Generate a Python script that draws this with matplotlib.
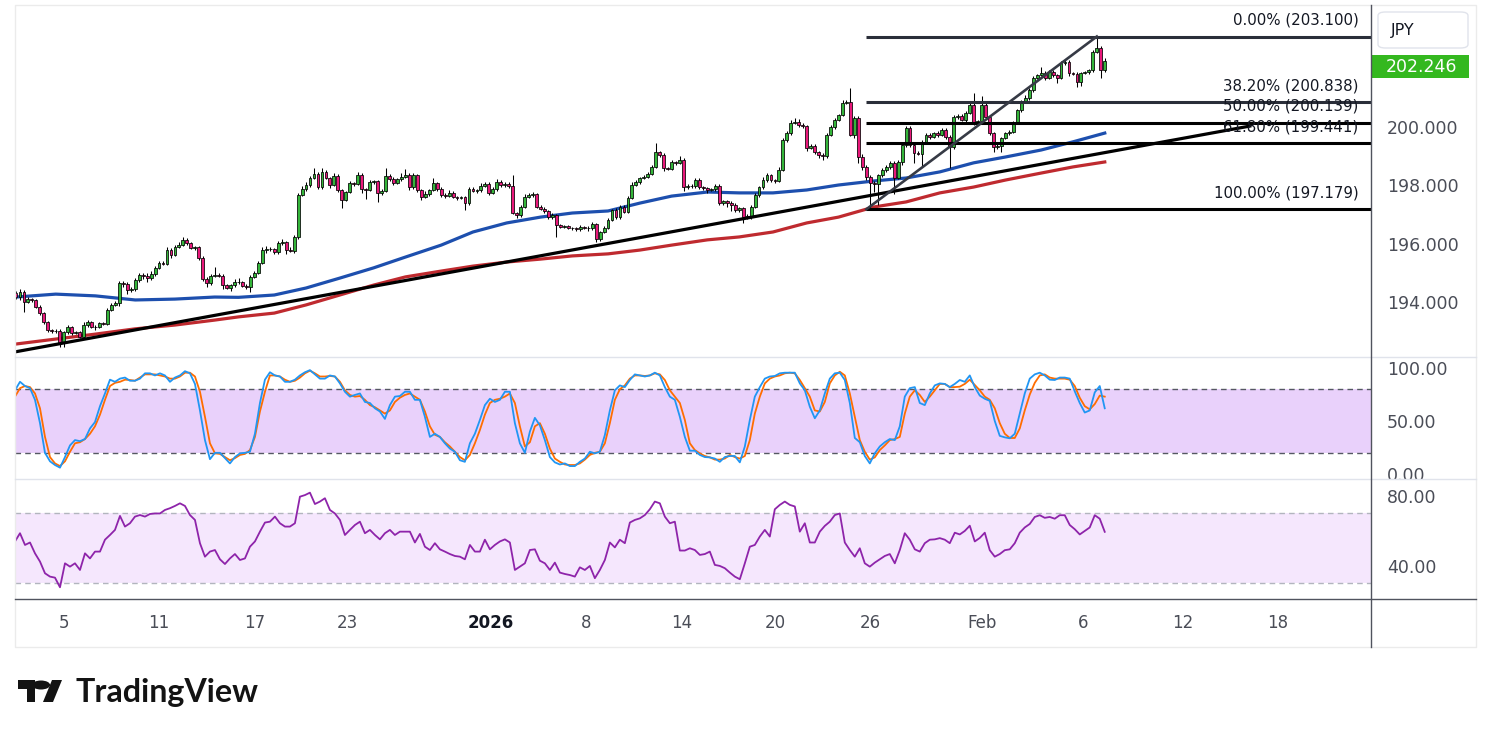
#!/usr/bin/env python

""" 4h JPY cross chart: candles, two moving averages, a trendline,
    a fib retracement, a stochastic pane and an RSI pane
"""

import numpy as np
import matplotlib
matplotlib.use("Agg")
import matplotlib.pyplot as plt
from matplotlib.patches import FancyBboxPatch, Rectangle, Polygon, Circle
from matplotlib.lines import Line2D
from matplotlib.transforms import Bbox, TransformedBbox

# ---- price bars (4h), oldest first; open of a bar = close of the one before
first_open = 194.30
closes = [
    194.17, 194.34, 194.00, 194.10, 194.07, 193.83, 193.62, 193.31, 193.04, 193.00,
    193.02, 192.60, 192.97, 193.14, 192.94, 192.96, 192.80, 193.21, 193.31, 193.14,
    193.16, 193.28, 193.26, 193.73, 193.90, 193.97, 194.65, 194.62, 194.41, 194.45,
    194.75, 194.93, 194.90, 194.82, 194.96, 195.17, 195.34, 195.31, 195.78, 195.61,
    195.89, 195.96, 196.13, 196.02, 195.85, 195.87, 195.51, 194.79, 194.65, 194.89,
    194.93, 194.89, 194.58, 194.48, 194.58, 194.69, 194.67, 194.55, 194.51, 194.86,
    195.00, 195.34, 195.78, 195.82, 195.80, 195.70, 196.02, 196.05, 195.78, 195.76,
    196.23, 197.67, 197.87, 198.01, 198.25, 198.39, 197.94, 198.46, 198.25, 198.01,
    198.32, 197.84, 197.50, 197.77, 198.08, 198.05, 198.35, 197.87, 197.85, 198.11,
    198.14, 197.74, 197.81, 198.32, 198.22, 198.08, 198.20, 198.29, 198.35, 197.94,
    198.35, 197.84, 197.60, 197.70, 197.84, 198.08, 197.87, 197.67, 197.65, 197.74,
    197.60, 197.57, 197.59, 197.39, 197.87, 197.81, 197.83, 197.98, 198.05, 197.74,
    197.87, 198.11, 198.00, 198.05, 197.98, 197.05, 196.98, 197.26, 197.60, 197.67,
    197.70, 197.26, 197.19, 197.12, 196.91, 196.98, 196.64, 196.57, 196.59, 196.54,
    196.52, 196.50, 196.57, 196.54, 196.52, 196.67, 196.16, 196.40, 196.54, 196.81,
    197.15, 196.91, 197.26, 197.09, 197.57, 198.01, 198.11, 198.25, 198.29, 198.39,
    198.63, 199.14, 199.04, 198.59, 198.57, 198.80, 198.77, 198.87, 197.94, 197.98,
    197.96, 198.18, 197.94, 197.90, 197.84, 197.87, 197.98, 197.39, 197.46, 197.39,
    197.33, 197.15, 197.22, 196.91, 196.95, 197.26, 197.67, 197.94, 198.18, 198.35,
    198.18, 198.15, 198.53, 199.55, 199.79, 200.14, 200.17, 200.07, 200.03, 199.28,
    199.35, 199.14, 199.04, 199.00, 199.73, 200.00, 200.24, 200.41, 200.82, 200.86,
    199.73, 200.31, 198.97, 198.63, 198.29, 198.08, 198.06, 198.35, 198.53, 198.63,
    198.77, 198.25, 198.80, 199.38, 199.97, 199.38, 199.11, 199.09, 199.49, 199.73,
    199.66, 199.79, 199.73, 199.90, 199.66, 199.31, 200.34, 200.38, 200.24, 200.48,
    200.75, 200.14, 200.20, 200.75, 200.34, 199.79, 199.31, 199.35, 199.62, 199.79,
    199.83, 200.14, 200.58, 200.86, 200.99, 201.27, 201.68, 201.78, 201.85, 201.68,
    201.89, 201.78, 201.68, 202.19, 202.23, 201.85, 201.82, 201.54, 201.85, 201.87,
    201.95, 202.57, 202.71, 201.95, 202.25,
]
# wick length above the body and below the body
wick_up = [
    0.08, 0.10, 0.08, 0.06, 0.05, 0.05, 0.06, 0.05, 0.05, 0.05, 0.06, 0.06, 0.05, 0.08, 0.05, 0.04, 0.04, 0.10, 0.08, 0.05, 0.04, 0.05, 0.05, 0.05, 0.06,
    0.05, 0.06, 0.08, 0.05, 0.05, 0.06, 0.05, 0.06, 0.08, 0.10, 0.05, 0.06, 0.05, 0.10, 0.06, 0.05, 0.08, 0.10, 0.08, 0.05, 0.05, 0.05, 0.05, 0.05, 0.06,
    0.27, 0.05, 0.06, 0.05, 0.05, 0.10, 0.12, 0.05, 0.06, 0.05, 0.05, 0.06, 0.10, 0.10, 0.08, 0.06, 0.08, 0.10, 0.05, 0.10, 0.06, 0.05, 0.10, 0.12, 0.08,
    0.20, 0.05, 0.15, 0.06, 0.05, 0.10, 0.08, 0.05, 0.05, 0.06, 0.05, 0.10, 0.06, 0.05, 0.06, 0.05, 0.05, 0.05, 0.27, 0.06, 0.05, 0.05, 0.12, 0.20, 0.08,
    0.06, 0.05, 0.05, 0.12, 0.05, 0.17, 0.05, 0.06, 0.05, 0.10, 0.05, 0.05, 0.05, 0.05, 0.08, 0.06, 0.05, 0.10, 0.06, 0.05, 0.08, 0.12, 0.08, 0.06, 0.05,
    0.37, 0.05, 0.06, 0.10, 0.08, 0.06, 0.05, 0.06, 0.05, 0.05, 0.06, 0.05, 0.04, 0.05, 0.05, 0.04, 0.05, 0.06, 0.05, 0.05, 0.06, 0.05, 0.05, 0.06, 0.08,
    0.05, 0.06, 0.05, 0.05, 0.06, 0.10, 0.06, 0.05, 0.06, 0.05, 0.08, 0.30, 0.05, 0.06, 0.05, 0.06, 0.05, 0.12, 0.05, 0.06, 0.05, 0.08, 0.06, 0.05, 0.05,
    0.05, 0.06, 0.08, 0.05, 0.05, 0.06, 0.05, 0.05, 0.05, 0.06, 0.05, 0.08, 0.05, 0.10, 0.06, 0.05, 0.05, 0.10, 0.06, 0.08, 0.10, 0.15, 0.10, 0.06, 0.05,
    0.06, 0.05, 0.05, 0.06, 0.05, 0.08, 0.06, 0.05, 0.10, 0.08, 0.48, 0.06, 0.05, 0.10, 0.05, 0.05, 0.06, 0.05, 0.08, 0.05, 0.06, 0.05, 0.08, 0.10, 0.07,
    0.05, 0.05, 0.06, 0.05, 0.05, 0.06, 0.05, 0.06, 0.05, 0.06, 0.05, 0.08, 0.06, 0.05, 0.06, 0.10, 0.40, 0.05, 0.30, 0.06, 0.05, 0.05, 0.06, 0.05, 0.05,
    0.05, 0.06, 0.05, 0.06, 0.10, 0.06, 0.08, 0.05, 0.20, 0.06, 0.05, 0.06, 0.05, 0.08, 0.06, 0.05, 0.05, 0.06, 0.05, 0.06, 0.05, 0.08, 0.39, 0.05, 0.10,
]
wick_dn = [
    0.05, 0.10, 0.35, 0.05, 0.06, 0.05, 0.05, 0.05, 0.06, 0.05, 0.05, 0.15, 0.15, 0.05, 0.06, 0.05, 0.04, 0.05, 0.05, 0.04, 0.10, 0.05, 0.05, 0.05, 0.05,
    0.05, 0.10, 0.10, 0.12, 0.05, 0.06, 0.05, 0.10, 0.12, 0.05, 0.06, 0.05, 0.05, 0.05, 0.10, 0.05, 0.05, 0.05, 0.06, 0.05, 0.08, 0.06, 0.06, 0.15, 0.08,
    0.05, 0.05, 0.12, 0.05, 0.10, 0.05, 0.06, 0.05, 0.05, 0.15, 0.05, 0.05, 0.05, 0.10, 0.05, 0.06, 0.05, 0.05, 0.12, 0.05, 0.08, 0.06, 0.05, 0.05, 0.08,
    0.05, 0.06, 0.05, 0.05, 0.10, 0.05, 0.06, 0.27, 0.05, 0.05, 0.06, 0.05, 0.12, 0.33, 0.05, 0.06, 0.30, 0.06, 0.05, 0.06, 0.08, 0.05, 0.05, 0.05, 0.10,
    0.05, 0.06, 0.12, 0.05, 0.06, 0.05, 0.05, 0.06, 0.08, 0.05, 0.05, 0.06, 0.05, 0.24, 0.05, 0.05, 0.06, 0.05, 0.05, 0.08, 0.05, 0.05, 0.06, 0.05, 0.08,
    0.05, 0.10, 0.05, 0.05, 0.05, 0.06, 0.05, 0.05, 0.08, 0.06, 0.05, 0.40, 0.05, 0.05, 0.05, 0.06, 0.05, 0.05, 0.05, 0.10, 0.05, 0.12, 0.06, 0.05, 0.05,
    0.05, 0.05, 0.08, 0.05, 0.05, 0.05, 0.05, 0.06, 0.05, 0.05, 0.05, 0.05, 0.06, 0.10, 0.05, 0.05, 0.06, 0.05, 0.12, 0.05, 0.06, 0.05, 0.08, 0.05, 0.10,
    0.05, 0.06, 0.08, 0.05, 0.15, 0.20, 0.06, 0.05, 0.20, 0.05, 0.12, 0.05, 0.06, 0.05, 0.05, 0.06, 0.08, 0.05, 0.05, 0.06, 0.05, 0.05, 0.06, 0.05, 0.12,
    0.05, 0.06, 0.10, 0.12, 0.05, 0.05, 0.06, 0.05, 0.05, 0.05, 0.05, 0.10, 0.20, 0.10, 0.12, 0.90, 0.30, 0.75, 0.05, 0.06, 0.08, 0.55, 0.05, 0.10, 0.05,
    0.05, 0.34, 0.05, 0.46, 0.05, 0.06, 0.05, 0.06, 0.05, 0.06, 0.70, 0.05, 0.06, 0.05, 0.06, 0.05, 0.08, 0.05, 0.06, 0.05, 0.08, 0.17, 0.05, 0.20, 0.05,
    0.06, 0.05, 0.05, 0.06, 0.05, 0.05, 0.06, 0.05, 0.05, 0.08, 0.05, 0.06, 0.17, 0.05, 0.06, 0.10, 0.05, 0.17, 0.15, 0.05, 0.06, 0.05, 0.05, 0.27, 0.05,
]
last_price = 202.246

# ---- moving averages, read at these bars
ma_bars = [0, 10, 20, 30, 40, 50, 56, 65, 73, 81.5, 90, 98, 107, 115, 123.5, 132, 140,
           149, 157, 165, 174, 182, 190.5, 199, 207, 216, 224, 232.5, 241, 249, 258, 266, 274]
ma_blue = [194.17, 194.27, 194.21, 194.07, 194.10, 194.17, 194.16, 194.24, 194.48, 194.82,
           195.17, 195.54, 195.95, 196.40, 196.71, 196.91, 197.05, 197.12, 197.39, 197.63,
           197.77, 197.74, 197.74, 197.84, 198.01, 198.15, 198.25, 198.46, 198.77, 198.97,
           199.21, 199.49, 199.79]
ma_red = [192.56, 192.73, 192.90, 193.08, 193.21, 193.38, 193.49, 193.62, 193.90, 194.24,
          194.58, 194.86, 195.06, 195.23, 195.37, 195.47, 195.58, 195.65, 195.78, 195.95,
          196.13, 196.23, 196.40, 196.71, 196.91, 197.26, 197.43, 197.74, 197.94, 198.18,
          198.42, 198.63, 198.80]

# ---- drawings
trend_bars = [-0.25, 310.5]
trend_prices = [192.29, 200.03]
fib_high = 203.100
fib_low = 197.179
fib_levels = [0.0, 0.382, 0.5, 0.618, 1.0]
fib_start_bar = 214
fib_low_bar = 214
fib_high_bar = 272

# ---- oscillators, read every 1.258 bars starting at bar -0.25
osc_start = -0.25
osc_step = 1.258
stoch_k = [
    79, 87, 83, 81, 70, 48, 20, 12, 8.5, 6,
    16, 27, 32, 31, 33, 43, 49, 64, 76, 89,
    87, 90, 91, 88, 88, 90, 95, 95, 93, 95,
    93, 87, 91, 93, 97, 95, 85, 60, 32, 14,
    20, 20, 15, 10, 16, 19.5, 20, 21, 38, 67,
    89, 96, 93, 92, 87, 87, 89, 93, 96, 98,
    94, 90, 90, 93, 92, 85.5, 77.6, 73, 74.6, 76,
    68, 67, 62, 59, 52, 65, 73, 73.6, 77.6, 77.6,
    70, 70, 54, 35, 38, 35, 29, 24, 21, 13,
    11.5, 29, 38, 51, 65, 71, 68,
    70, 77.6, 77.6, 48, 29, 20, 40, 53, 46, 32,
    16, 11, 9, 10, 7.5, 7.5, 11.5, 14.6, 21, 19.5,
    21, 36.8, 60, 79, 83.6, 82, 88.7, 94, 93, 92,
    93, 95.6, 93, 82, 73, 70, 54, 35, 22, 22,
    18, 16, 15.7, 14.6, 11.5, 16, 17, 17, 11, 26,
    51, 73, 82, 90, 92, 92.5, 95, 95.6, 95.6, 95.6,
    85.5, 79, 63.5, 52.6, 60, 76, 90, 95, 95.6, 88.7,
    67, 34, 30, 17, 10, 19.5, 26, 30, 33, 32,
    45, 73, 81, 82, 67, 65, 76, 83.6, 85.5, 85,
    82, 85, 88.7, 87, 93, 82, 74, 71, 69, 50,
    36, 34.6, 33.7, 38, 57, 76, 90, 94, 95.6, 93,
    89, 88.7, 91, 91, 90, 78, 67, 58, 60, 77,
    83, 62,
]
stoch_d = [
    73, 81, 83, 82, 76, 62, 35, 16, 10, 7.5,
    12, 21, 29, 30, 33, 38, 45, 56, 70, 83,
    86, 87, 89, 88.7, 88, 91, 94, 94, 94, 93,
    92, 90, 90, 92, 95.6, 95.6, 92, 77.6, 54, 29,
    19.5, 19, 16, 13, 15, 18, 19, 22.6, 35, 59,
    77.6, 93, 93, 92, 89, 87, 88, 91, 95, 97.5,
    95, 92, 92, 92.5, 92, 87, 79, 74.6, 73, 73.6,
    70, 65, 63, 60, 57, 60, 68, 72, 74.6, 76,
    73, 70, 59, 45, 37, 35, 30, 26, 21, 16,
    13, 18, 29, 41.5, 56, 67, 70,
    71, 73, 76, 67, 45, 26, 30, 45, 48, 38,
    24, 14.6, 11.5, 9, 8.5, 8.5, 10, 13.6, 18, 20,
    21, 29, 48, 70, 80, 83.6, 90, 93, 93, 92.5,
    93, 95, 94, 88.7, 79, 73, 67, 51, 29, 22.6,
    19.5, 17, 15.7, 13.6, 13.6, 14.6, 18, 16, 14.6, 17,
    32, 57, 73, 85.5, 90, 92, 93, 95, 95.6, 95,
    88.7, 81, 73, 60, 59, 68, 85.5, 93, 96.5, 93,
    76, 54, 32, 21, 13.6, 15.7, 22.6, 27, 32, 33,
    35, 57, 73, 79, 74.6, 68, 73, 79, 85, 85,
    82, 82, 82.4, 85, 89, 84, 79, 73, 70, 62,
    48, 38, 34, 34, 43, 60, 75, 86, 93, 94,
    91, 90, 90, 90, 89, 83, 72, 64, 61, 66,
    74, 73,
]
rsi = [
    54, 58.7, 52, 53.4, 47.2, 42.5, 35.8, 33.9, 33.3, 27.8,
    41.5, 39.6, 41.5, 37.7, 47.2, 44.3, 48.2, 48.2, 55, 57.7,
    60.6, 68.6, 62.5, 64.4, 68.2, 69.1, 68.2, 69.7, 70, 70,
    72, 73, 74.3, 75.8, 74.3, 69.1, 66.3, 53, 45.3, 48.2,
    49.1, 43.8, 41.1, 44.3, 46.8, 43.4, 44.3, 51, 54, 59.6,
    64.8, 65.3, 68.2, 64.4, 62.5, 62.5, 64.4, 79.6, 80.5, 81.9,
    75.4, 76.8, 78.7, 72, 70, 66.3, 57.7, 60.6, 63.4, 65.3,
    58.7, 60.6, 57.7, 55.2, 58.7, 60.6, 57.7, 59.6, 59.6, 59.6,
    53.4, 58.3, 51, 49.1, 53, 49.5, 48.2, 46.8, 45.7, 45.3,
    43.8, 52, 48.2, 48.2, 55, 49.5, 52,
    54, 55.2, 53.4, 37.7, 39.6, 41.5, 49.1, 49.5, 43, 41.5,
    37.7, 41.9, 36.2, 35.4, 34.8, 33.9, 39.2, 37.7, 40, 33,
    37.7, 43.4, 53.4, 50.6, 55, 53, 64.8, 66.3, 67.2, 69.1,
    72.4, 76.8, 75.8, 68.2, 64.4, 65.3, 48.8, 48.8, 50.1, 49.1,
    46.3, 46.8, 48.2, 40.6, 40, 38.7, 36.2, 33.9, 32.4, 41.5,
    51, 52, 56.8, 60.6, 56.8, 72.4, 74.9, 76.8, 74.9, 74,
    59.6, 64.4, 53.4, 53.4, 59.6, 62.9, 65.3, 69.1, 70, 53.4,
    49.1, 45.3, 50.1, 41.5, 39.6, 41.9, 43.8, 45.7, 46.8, 41.5,
    49.1, 58.7, 55, 49.5, 48.2, 53, 55, 55.2, 55.9, 55,
    53, 59, 58, 60, 63, 54, 56, 59, 49, 45.3,
    46.8, 49, 49.5, 53, 59, 62, 64, 68, 69, 67.5,
    68, 67, 69, 69, 63.4, 61, 58, 60, 62, 69,
    67, 59.5,
]

# ---- axes labels
date_ticks = [12, 36, 60, 83.5, 119.5, 143.5, 167.5, 191, 215, 243, 268.5, 293.5, 317.5]
date_labels = ["5", "11", "17", "23", "2026", "8", "14", "20", "26", "Feb", "6", "12", "18"]
price_ticks = [194, 196, 198, 200]
stoch_ticks = [0, 50, 100]
rsi_ticks = [40, 80]

W, H = 1491, 737
GREEN = "#34b53a"
RED = "#e8187a"
AXIS_TXT = "#4a4d57"


def fx(px):
    return px / W


def fy(py):
    return 1 - py / H


def draw_chart():
    fig = plt.figure(figsize=(W / 100, H / 100), dpi=100)
    fig.patch.set_facecolor("white")

    left, right = 15, 1371
    ax = fig.add_axes([fx(left), fy(357), fx(right - left), (357 - 5) / H])
    ax_st = fig.add_axes([fx(left), fy(479), fx(right - left), (479 - 357) / H], sharex=ax)
    ax_rsi = fig.add_axes([fx(left), fy(599), fx(right - left), (599 - 479) / H], sharex=ax)

    for a in (ax, ax_st, ax_rsi):
        for s in a.spines.values():
            s.set_visible(False)
        a.set_facecolor("white")
        a.yaxis.tick_right()
        a.tick_params(axis="y", length=0, pad=11.5, labelsize=12.5, labelcolor=AXIS_TXT)
        a.tick_params(axis="x", length=0, labelbottom=False)

    # ---- candles
    c = np.array(closes)
    o = np.concatenate([[first_open], c[:-1]])
    hi = np.maximum(o, c) + np.array(wick_up)
    lo = np.minimum(o, c) - np.array(wick_dn)
    x = np.arange(len(c))
    cols = np.where(c >= o, GREEN, RED)
    body = np.maximum(np.abs(c - o), 0.015)
    ax.vlines(x, lo, hi, color="black", lw=0.75, zorder=3)
    ax.bar(x, body, bottom=np.minimum(o, c), width=0.72, color=cols,
           edgecolor="black", linewidth=0.55, zorder=4)

    # ---- moving averages and drawings
    ax.plot(ma_bars, ma_blue, color="#1d4fae", lw=2.3, zorder=2, solid_joinstyle="round")
    ax.plot(ma_bars, ma_red, color="#bf2a2f", lw=2.3, zorder=2, solid_joinstyle="round")
    ax.plot(trend_bars, trend_prices, color="black", lw=2.3, zorder=5)

    rng = fib_high - fib_low
    for lvl in fib_levels:
        p = fib_high - lvl * rng
        col = "#2a2e39" if lvl < 0.45 else "black"
        ax.plot([fib_start_bar, 341], [p, p], color=col, lw=2.2, zorder=5,
                solid_capstyle="butt")
        ax.annotate("%.2f%% (%.3f)" % (lvl * 100, p), xy=(1, p),
                    xycoords=("axes fraction", "data"), xytext=(-9, 6.5),
                    textcoords="offset points", ha="right", va="bottom",
                    fontsize=10.8, color="#131722", zorder=6)
    ax.plot([fib_low_bar, fib_high_bar], [fib_low, fib_high], color="#363a45",
            lw=1.9, zorder=5)

    ax.set_ylim(192.115, 204.18)
    ax.set_yticks(price_ticks)
    ax.set_yticklabels(["%.3f" % t for t in price_ticks])

    # ---- stochastic
    xo = osc_start + osc_step * np.arange(len(stoch_k))
    ax_st.axhspan(20, 80, color="#e9d1fb", lw=0, zorder=0)
    for lv in (20, 80):
        ax_st.axhline(lv, color="#555862", lw=1.0, ls=(0, (4, 3)), zorder=1)
    ax_st.plot(xo, stoch_k, color="#2196f3", lw=1.3, zorder=3)
    ax_st.plot(xo, stoch_d, color="#ff6d00", lw=1.3, zorder=2)
    ax_st.set_ylim(-4.7, 110.4)
    ax_st.set_yticks(stoch_ticks)
    ax_st.set_yticklabels(["%.2f" % t for t in stoch_ticks])

    # ---- rsi
    xr = osc_start + osc_step * np.arange(len(rsi))
    ax_rsi.axhspan(30, 70, color="#f5e7fd", lw=0, zorder=0)
    for lv in (30, 70):
        ax_rsi.axhline(lv, color="#b2b5be", lw=1.0, ls=(0, (4, 3)), zorder=1)
    ax_rsi.plot(xr, rsi, color="#8e24aa", lw=1.3, zorder=3)
    ax_rsi.set_ylim(21.1, 89.7)
    ax_rsi.set_yticks(rsi_ticks)
    ax_rsi.set_yticklabels(["%.2f" % t for t in rsi_ticks])

    ax_rsi.set_xticks(date_ticks)
    ax_rsi.set_xticklabels(date_labels)
    ax_rsi.tick_params(axis="x", labelbottom=True, labelsize=12, pad=11,
                       labelcolor=AXIS_TXT)
    for lab in ax_rsi.get_xticklabels():
        if lab.get_text() == "2026":
            lab.set_fontweight("bold")
            lab.set_color("#131722")
    ax.set_xlim(-0.25, 341)

    # the 0.00 label is cut by the pane below
    clip = TransformedBbox(Bbox.from_extents(0, fy(479), 1, fy(357)), fig.transFigure)
    for t in ax_st.yaxis.get_major_ticks():
        t.label2.set_clip_box(clip)
        t.label2.set_clip_on(True)

    # ---- frame lines
    fig.add_artist(Rectangle((fx(15), fy(647)), fx(1476 - 15), (647 - 5) / H,
                             fill=False, ec="#ebebeb", lw=1.0))
    for py in (357, 479):
        fig.add_artist(Line2D([fx(15), fx(1476)], [fy(py), fy(py)], color="#e0e3eb", lw=1.0))
    fig.add_artist(Line2D([fx(15), fx(1476)], [fy(599), fy(599)], color="#50535e", lw=1.0))
    fig.add_artist(Line2D([fx(1371), fx(1371)], [fy(5), fy(647)], color="#50535e", lw=1.0))

    # ---- currency box and last price tag
    fig.add_artist(FancyBboxPatch((fx(1378), fy(48)), fx(90), 36 / H,
                                  boxstyle="round,pad=0,rounding_size=0.005",
                                  fc="white", ec="#e0e3eb", lw=1.0))
    fig.text(fx(1391), fy(30), "JPY", fontsize=11.5, color="#131722", va="center")
    fig.add_artist(Rectangle((fx(1371), fy(78)), fx(98), 23 / H, fc="#34b81f", ec="none"))
    fig.text(fx(1386), fy(66.5), "%.3f" % last_price, fontsize=12.5, color="white",
             va="center", ha="left", fontweight="medium")

    # ---- logo
    fig.add_artist(Polygon([(fx(18), fy(680)), (fx(35), fy(680)), (fx(35), fy(702)),
                            (fx(27), fy(702)), (fx(27), fy(689)), (fx(18), fy(689))],
                           closed=True, fc="#131313", ec="none"))
    fig.add_artist(Circle((fx(41), fy(685)), 4.5 / H, fc="#131313", ec="none",
                          transform=fig.transFigure))
    fig.add_artist(Polygon([(fx(43), fy(702)), (fx(53), fy(702)), (fx(62), fy(680)),
                            (fx(52), fy(680))], closed=True, fc="#131313", ec="none"))
    fig.text(fx(75), fy(702), "TradingView", fontsize=23.2, fontweight="bold",
             family="Lato", color="#131313", va="baseline")

    fig.savefig("out.png", dpi=100, facecolor="white")


if __name__ == "__main__":
    draw_chart()
